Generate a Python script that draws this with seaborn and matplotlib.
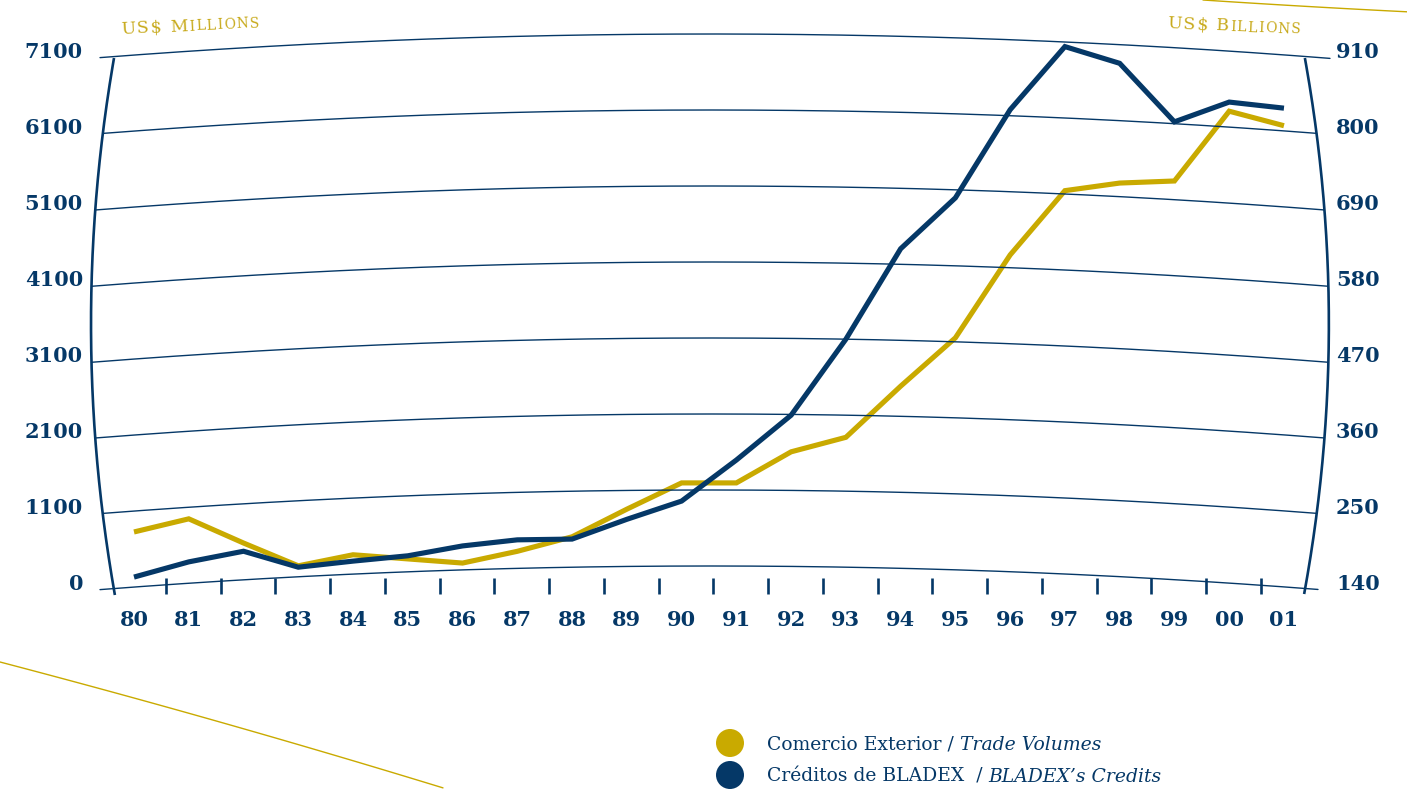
import numpy as np
import matplotlib
matplotlib.use("Agg")
import matplotlib.pyplot as plt
import matplotlib.transforms as mtransforms
from matplotlib.patches import Circle
import seaborn as sns

# ---- data -----------------------------------------------------------------
years = ["80", "81", "82", "83", "84", "85", "86", "87", "88", "89", "90",
         "91", "92", "93", "94", "95", "96", "97", "98", "99", "00", "01"]
# BLADEX's credits, US$ millions (left scale)
bladex_credits = [270, 470, 610, 400, 480, 550, 680, 760, 770, 1030, 1270,
                  1810, 2400, 3400, 4590, 5260, 6420, 7250, 7030, 6260, 6520, 6440]
# Latin American trade volumes, US$ billions (right scale)
trade_volumes = [224, 243, 208, 175, 191, 185, 179, 196, 217, 257, 295,
                 295, 340, 361, 435, 505, 625, 718, 729, 732, 833, 812]
left_levels = [100, 1100, 2100, 3100, 4100, 5100, 6100, 7100]
left_labels = ["0", "1100", "2100", "3100", "4100", "5100", "6100", "7100"]
right_labels = ["140", "250", "360", "470", "580", "690", "800", "910"]

# ---- style ----------------------------------------------------------------
NAVY = "#053867"
GOLD = "#c9aa00"
GOLD_TXT = "#c8aa1c"
sns.set_style("white")
plt.rcParams["font.family"] = ["DejaVu Serif", "DejaVu Sans"]

W, H = 1407, 789
fig = plt.figure(figsize=(W / 100, H / 100), dpi=100)
fig.patch.set_facecolor("white")

# one axes over the whole canvas; scale chosen so the plot frame sits in place
X0, DX = 134.0, 54.76        # pixel of first year, pixels per year
Y0, DY = 590.0, 0.076        # pixel of lowest level, pixels per US$ million
ax = fig.add_axes([0, 0, 1, 1])
ax.set_xlim(-X0 / DX, (W - X0) / DX)
ax.set_ylim(100 - (H - Y0) / DY, 100 + Y0 / DY)
ax.axis("off")

# right scale: 140 <-> 100, 910 <-> 7100
def to_right(v):
    return 140 + (v - 100) * 0.11

ax2 = ax.twinx()
ax2.set_ylim(to_right(ax.get_ylim()[0]), to_right(ax.get_ylim()[1]))
ax2.axis("off")
ax2.set_zorder(ax.get_zorder() - 1)
ax.patch.set_visible(False)

px = mtransforms.Affine2D().scale(1 / W, -1 / H).translate(0, 1) + fig.transFigure

# ---- curved frame -----------------------------------------------------------
def u_of(v):
    return (3600 - v) / 3500.0

def left_edge(v):
    return -0.785 + 0.42 * u_of(v) ** 2

def right_edge(v):
    return 21.82 - 0.438 * u_of(v) ** 2

vv = np.linspace(34, 7100, 200)
ax.plot(left_edge(vv), vv, color=NAVY, lw=1.9, solid_capstyle="butt", zorder=3)
vv = np.linspace(47, 7100, 200)
ax.plot(right_edge(vv), vv, color=NAVY, lw=1.9, solid_capstyle="butt", zorder=3)

ARC_H, ARC_C, ARC_W = 315.8, 10.52, 11.23
n_lev = len(left_levels)
for k, lev in enumerate(left_levels):
    i0, i1 = left_edge(lev), right_edge(lev)
    if k == 0:
        i0, i1 = (100 - X0) / DX, (1318 - X0) / DX
    elif k == n_lev - 1:
        i0, i1 = (100 - X0) / DX, (1330 - X0) / DX
    ii = np.linspace(i0, i1, 300)
    arc = lev + ARC_H * (1 - ((ii - ARC_C) / ARC_W) ** 2)
    ax.plot(ii, arc, color=NAVY, lw=1.0, zorder=2)
    ax.text((83 - X0) / DX, lev, left_labels[k], ha="right", va="baseline",
            color=NAVY, fontsize=15, fontweight="bold")
    ax.text((1336 - X0) / DX, lev, right_labels[k], ha="left", va="baseline",
            color=NAVY, fontsize=15, fontweight="bold")

# year ticks and labels
idx = np.arange(len(years))
ax.vlines(idx[:-1] + 0.58, 47, 258, color=NAVY, lw=1.9, zorder=3)
for i, lab in zip(idx, years):
    ax.text(i, 100 - 36 / DY, lab, ha="center", va="baseline",
            color=NAVY, fontsize=15, fontweight="bold")

# ---- series -----------------------------------------------------------------
sns.lineplot(x=idx, y=bladex_credits, ax=ax, color=NAVY, lw=3.7,
             legend=False, zorder=5, solid_joinstyle="miter", solid_capstyle="butt")
sns.lineplot(x=idx, y=trade_volumes, ax=ax2, color=GOLD, lw=3.7,
             legend=False, zorder=4, solid_joinstyle="miter", solid_capstyle="butt")

# ---- decorative sweeps ------------------------------------------------------
t = np.linspace(0, 1, 100)
bx = 443 * t
by = 662 + 0.262 * bx + 0.00005 * bx ** 2
fig.add_artist(plt.Line2D(bx, by, transform=px, color=GOLD, lw=1.0))
tx = 1203 + 204 * t
ty = 0.066 * (tx - 1203) - 0.00004 * (tx - 1203) ** 2
fig.add_artist(plt.Line2D(tx, ty, transform=px, color=GOLD, lw=1.0))

# ---- text helpers -----------------------------------------------------------
renderer = fig.canvas.get_renderer()

def text_width(s, style):
    tmp = fig.text(0, 0, s, **style)
    w = tmp.get_window_extent(renderer).width
    tmp.remove()
    return w

def chain_text(x, y, parts, rot=0.0, tracking=0.0):
    ang = np.deg2rad(rot)
    for s, style in parts:
        pieces = list(s) if tracking else [s]
        for p in pieces:
            fig.text(x, y, p, transform=px, rotation=rot, rotation_mode="anchor",
                     ha="left", va="baseline", **style)
            w = (text_width(p, style) if p != " " else text_width("n", style) * 0.5)
            w += tracking
            x += w * np.cos(ang)
            y -= w * np.sin(ang)

big = dict(fontsize=12.5, color=GOLD_TXT)
small = dict(fontsize=10, color=GOLD_TXT)
chain_text(121, 34, [("US$ M", big), ("ILLIONS", small)], rot=2.8, tracking=1.4)
chain_text(1167, 28, [("US$ B", big), ("ILLIONS", small)], rot=-2.5, tracking=1.4)

# legend
fig.add_artist(Circle((730, 743), 14, transform=px, color=GOLD, lw=0))
fig.add_artist(Circle((730, 775), 14, transform=px, color=NAVY, lw=0))
reg = dict(fontsize=13.5, color=NAVY)
ita = dict(fontsize=13.5, color=NAVY, style="italic")
chain_text(767, 750, [("Comercio Exterior / ", reg), ("Trade Volumes", ita)])
chain_text(767, 782, [("Créditos de BLADEX  / ", reg), ("BLADEX’s Credits", ita)])

fig.savefig("out.png", dpi=100, facecolor="white")
